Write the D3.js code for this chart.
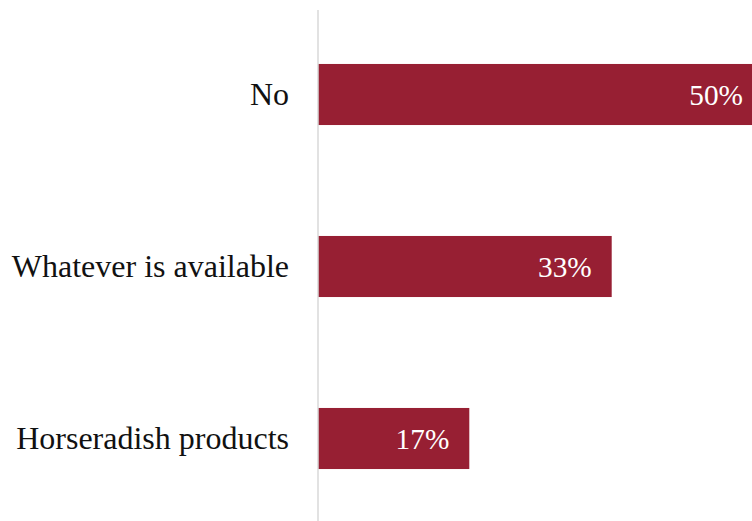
<!DOCTYPE html>
<html>
<head>
<meta charset="utf-8">
<script src="https://cdn.jsdelivr.net/npm/d3@7"></script>
<style>
  html, body { margin: 0; padding: 0; background: #fff; overflow: hidden; }
  svg { display: block; }
</style>
</head>
<body>
<svg id="chart" width="752" height="521"></svg>
<script>
// Survey answers and their shares (percent)
const categories = ["No", "Whatever is available", "Horseradish products"];
const shares = [50, 33, 17];
const valueLabels = ["50%", "33%", "17%"];

const svg = d3.select("#chart");
const width = 752, height = 521;
const axisX = 318;

const x = d3.scaleLinear().domain([0, 50]).range([axisX, 763]);
const y = d3.scaleBand()
  .domain(categories)
  .range([8.5, 524.5])
  .paddingInner(0.645)
  .paddingOuter(0.3225);

const rows = categories.map((c, i) => ({ cat: c, v: shares[i], label: valueLabels[i] }));

// bars
svg.append("g").selectAll("rect")
  .data(rows)
  .join("rect")
  .attr("x", x(0))
  .attr("y", d => y(d.cat))
  .attr("width", d => x(d.v) - x(0))
  .attr("height", y.bandwidth())
  .attr("fill", "#971F33");

// category axis line
svg.append("line")
  .attr("x1", axisX).attr("x2", axisX)
  .attr("y1", 10).attr("y2", height)
  .attr("stroke", "#d9d9d9")
  .attr("stroke-width", 1.5);

// category labels
svg.append("g").selectAll("text")
  .data(rows)
  .join("text")
  .attr("x", axisX - 29)
  .attr("y", d => y(d.cat) + y.bandwidth() / 2 + 10.5)
  .attr("text-anchor", "end")
  .attr("font-family", "'Liberation Serif', 'Times New Roman', serif")
  .attr("font-size", 32)
  .attr("fill", "#111")
  .text(d => d.cat);

// value labels inside the bar ends
svg.append("g").selectAll("text")
  .data(rows)
  .join("text")
  .attr("x", d => x(d.v) - 20)
  .attr("y", d => y(d.cat) + y.bandwidth() / 2 + 10)
  .attr("text-anchor", "end")
  .attr("font-family", "'Liberation Serif', 'Times New Roman', serif")
  .attr("font-size", 29.3)
  .attr("fill", "#fff")
  .text(d => d.label);
</script>
</body>
</html>
